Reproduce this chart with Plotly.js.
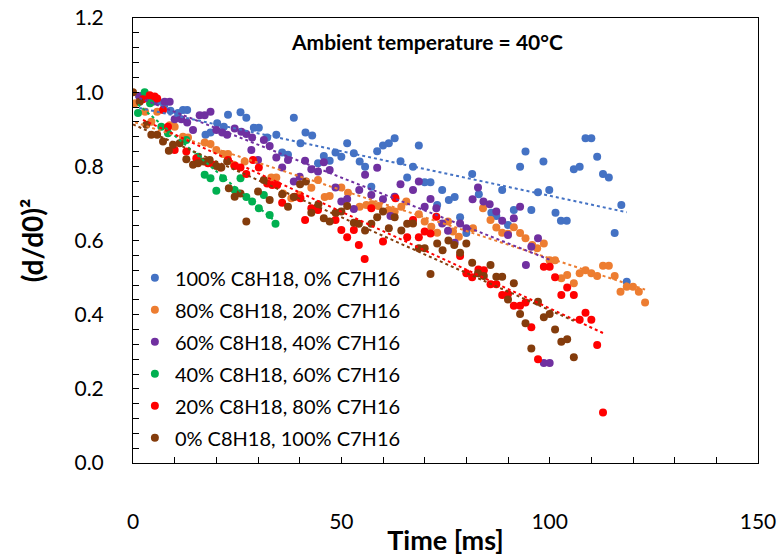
<!DOCTYPE html>
<html>
<head>
<meta charset="utf-8">
<script src="https://cdn.plot.ly/plotly-3.0.1.min.js"></script>
<style>html,body{margin:0;padding:0;background:#fff}#chart{width:780px;height:556px}</style>
</head>
<body>
<div id="chart"></div>
<script>
// Series names
const seriesNames = [
  "100% C8H18, 0% C7H16",
  "80% C8H18, 20% C7H16",
  "60% C8H18, 40% C7H16",
  "40% C8H18, 60% C7H16",
  "20% C8H18, 80% C7H16",
  "0% C8H18, 100% C7H16"
];
const seriesColors = ["#4472C4", "#ED7D31", "#7030A0", "#00B050", "#FF0000", "#843C0C"];

// 100% C8H18
const t100 = [1.5,3.5,6,7.5,9.0,10.8,12.0,13.0,17.4,18.6,20.2,21.8,22.8,25.8,27.2,29.0,30.2,32.2,34.4,35.8,37.2,38.6,40.2,41.4,43.0,44.4,45.8,47.2,48.6,50.0,51.4,53.0,54.4,55.7,57.2,58.6,60.0,61.4,62.8,64.2,65.8,67.2,68.6,70.0,71.4,73.0,74.2,75.8,77.2,78.5,80.0,81.4,83.0,86.0,87.2,88.6,90.0,91.4,92.9,94.2,95.6,97.2,98.5,99.9,101.4,102.7,104.1,105.8,107.2,108.6,110.0,111.4,112.8,114.2,115.6,117.2,118.5];
const d100 = [0.99,0.985,0.975,0.965,0.95,0.944,0.952,0.952,0.885,0.891,0.916,0.907,0.939,0.946,0.931,0.904,0.904,0.878,0.885,0.837,0.831,0.931,0.862,0.891,0.883,0.808,0.828,0.815,0.837,0.826,0.862,0.835,0.813,0.799,0.745,0.841,0.856,0.862,0.876,0.814,0.770,0.799,0.856,0.757,0.757,0.696,0.736,0.709,0.717,0.663,0.62,0.779,0.725,0.675,0.666,0.736,0.642,0.682,0.799,0.840,0.682,0.730,0.813,0.736,0.675,0.653,0.653,0.792,0.799,0.876,0.876,0.826,0.779,0.770,0.62,0.696,0.489];

// 80% C8H18
const t80 = [0.5,2.9,4.4,5.8,8.8,10.0,12.0,13.2,17.2,18.6,20.0,21.6,22.8,24.2,26.8,33.2,34.4,36.0,38.0,40.0,42.8,44.4,46.0,47.2,50.0,51.6,54.4,56.0,57.4,58.9,61.4,62.8,64.4,65.6,68.6,70.0,71.6,73.0,75.6,76.8,78.2,81.6,84.0,85.8,87.2,88.6,90.0,91.4,92.9,94.2,95.8,97.0,98.6,100.0,101.3,102.8,104.2,105.8,107.2,108.6,110.0,111.4,112.8,114.2,115.6,117.0,118.5,120.0,121.4,122.9];
const d80 = [0.97,0.947,0.92,0.947,0.911,0.907,0.88,0.878,0.864,0.86,0.844,0.833,0.833,0.804,0.813,0.770,0.770,0.727,0.714,0.723,0.742,0.763,0.717,0.72,0.743,0.729,0.691,0.696,0.698,0.693,0.682,0.678,0.691,0.705,0.671,0.651,0.637,0.621,0.651,0.624,0.610,0.633,0.687,0.655,0.635,0.621,0.618,0.636,0.62,0.606,0.588,0.579,0.592,0.547,0.547,0.498,0.507,0.485,0.512,0.52,0.512,0.504,0.532,0.532,0.504,0.462,0.475,0.475,0.462,0.433];

// 60% C8H18
const t60 = [1.5,3.0,5.0,7.6,8.8,10.0,11.6,13.0,14.4,16.0,17.2,18.6,20.0,21.4,22.6,24.4,26.0,27.2,28.6,28.4,30.0,31.4,32.8,34.4,35.8,37.2,38.6,40.0,41.3,42.8,44.4,45.8,47.2,48.6,50.0,51.4,53.0,54.3,55.7,57.2,58.6,60.0,61.8,62.8,64.2,67.2,68.6,70.0,71.4,72.8,74.2,75.6,77.2,78.5,80.0,81.5,82.8,84.1,85.6,87.2,88.6,90.0,91.4,92.9,94.3,95.6,97.2,98.6,100.0];
const d60 = [0.99,0.985,0.975,0.974,0.974,0.927,0.927,0.918,0.898,0.938,0.938,0.947,0.898,0.891,0.885,0.902,0.893,0.887,0.878,0.844,0.817,0.871,0.855,0.824,0.797,0.817,0.759,0.772,0.815,0.792,0.786,0.811,0.79,0.743,0.705,0.712,0.685,0.736,0.777,0.723,0.796,0.711,0.666,0.718,0.752,0.736,0.759,0.691,0.712,0.687,0.646,0.626,0.594,0.646,0.633,0.711,0.743,0.705,0.698,0.678,0.653,0.615,0.66,0.691,0.534,0.583,0.606,0.27,0.27];

// 40% C8H18
const t40 = [1.2,2.8,4.1,6.8,8.4,12.8,15.6,17.2,18.6,20.0,21.6,24.4,25.8,27.2,28.6,30.2,31.4,32.8,34.2];
const d40 = [0.944,1.0,0.97,0.907,0.889,0.871,0.826,0.777,0.768,0.734,0.768,0.736,0.768,0.717,0.705,0.687,0.723,0.669,0.645];

// 20% C8H18
const t20 = [2.4,4.0,5.2,5.8,7.2,8.4,10.0,12.8,15.2,18.0,19.4,21.0,22.8,24.4,25.8,27.2,28.8,30.2,32.2,33.4,34.6,35.8,38.8,40.2,41.3,42.8,44.4,48.6,50.0,51.4,53.0,54.2,55.6,57.2,60.0,63.0,65.8,67.2,68.6,70.0,71.4,72.8,78.5,80.0,81.4,82.9,84.2,85.8,87.2,88.6,90.0,91.4,92.9,94.2,95.6,97.2,98.6,100.0,101.3,102.8,104.2,105.8,107.2,108.6,110.0,111.4,112.8];
const d20 = [0.981,0.992,0.988,0.983,0.952,0.907,0.844,0.84,0.822,0.808,0.804,0.797,0.817,0.801,0.797,0.779,0.817,0.797,0.754,0.75,0.75,0.702,0.718,0.714,0.655,0.687,0.682,0.655,0.628,0.609,0.628,0.588,0.55,0.687,0.597,0.714,0.609,0.655,0.609,0.624,0.619,0.664,0.558,0.512,0.501,0.522,0.52,0.482,0.482,0.453,0.456,0.424,0.424,0.433,0.366,0.28,0.529,0.529,0.501,0.453,0.473,0.453,0.386,0.405,0.386,0.318,0.136];

// 0% C8H18
const t0 = [0,1.6,3.2,4.4,5.8,7.2,8.6,9.6,11.2,12.8,14.4,15.6,17.0,18.4,20.0,21.2,22.6,23.0,24.4,25.8,27.2,30.0,31.4,32.8,35.8,37.2,38.6,40.1,41.5,42.8,44.5,45.8,47.2,48.6,50.0,51.4,53.0,54.2,55.7,57.2,58.6,60.0,61.4,62.8,64.4,65.8,67.2,68.6,70.0,71.4,73.0,74.3,75.7,77.1,78.5,80.0,81.4,82.8,84.2,85.8,87.2,88.6,90.0,91.4,92.9,94.2,95.6,97.2,98.6,100.0,101.3,102.8,104.2,105.8];
const d0 = [1.0,0.974,0.912,0.885,0.885,0.867,0.842,0.858,0.862,0.819,0.804,0.808,0.813,0.817,0.801,0.797,0.813,0.741,0.718,0.727,0.651,0.732,0.763,0.709,0.725,0.691,0.717,0.752,0.759,0.675,0.698,0.66,0.651,0.675,0.678,0.693,0.648,0.645,0.627,0.645,0.663,0.678,0.633,0.663,0.627,0.645,0.646,0.579,0.579,0.51,0.592,0.574,0.60,0.588,0.567,0.592,0.54,0.512,0.504,0.534,0.502,0.502,0.441,0.485,0.402,0.377,0.309,0.435,0.393,0.402,0.36,0.327,0.334,0.285];

const xs = [t100, t80, t60, t40, t20, t0];
const ys = [d100, d80, d60, d40, d20, d0];

function linfit(x, y) {
  const n = x.length;
  let sx = 0, sy = 0, sxx = 0, sxy = 0;
  for (let i = 0; i < n; i++) { sx += x[i]; sy += y[i]; sxx += x[i]*x[i]; sxy += x[i]*y[i]; }
  const m = (n*sxy - sx*sy) / (n*sxx - sx*sx);
  const b = (sy - m*sx) / n;
  return [m, b];
}

const FONT = "Lato, 'Open Sans', sans-serif";
const traces = [];
for (let i = 0; i < 6; i++) {
  traces.push({
    type: "scatter", mode: "markers", x: xs[i], y: ys[i], name: seriesNames[i],
    legendgroup: "g" + i,
    marker: {color: seriesColors[i], size: 8}, hoverinfo: "x+y"
  });
}
for (let i = 0; i < 6; i++) {
  const [m, b] = linfit(xs[i], ys[i]);
  const x0 = Math.min(...xs[i]), x1 = Math.max(...xs[i]);
  traces.push({
    type: "scatter", mode: "lines", x: [x0, x1], y: [m*x0 + b, m*x1 + b],
    showlegend: false, hoverinfo: "skip",
    line: {color: seriesColors[i], width: 2, dash: "dot"}
  });
}

const layout = {
  width: 780, height: 556,
  margin: {l: 133, r: 22, t: 18, b: 93},
  paper_bgcolor: "#fff", plot_bgcolor: "#fff",
  font: {family: FONT, color: "#000"},
  showlegend: true,
  legend: {
    x: 0.003, y: 0.46, xanchor: "left", yanchor: "top",
    bgcolor: "rgba(255,255,255,0)", font: {size: 20, family: FONT, color: "#000"},
    tracegroupgap: 3, itemwidth: 30
  },
  xaxis: {
    range: [0, 150], dtick: 50, tick0: 0, showgrid: false, zeroline: false,
    showline: true, linecolor: "#000", linewidth: 1, mirror: true,
    ticks: "inside", ticklen: 6, tickcolor: "#000",
    minor: {dtick: 10, ticks: "inside", ticklen: 6, tickcolor: "#000"},
    tickfont: {size: 21, family: FONT, color: "#000"},
    ticklabelstandoff: 40,
    automargin: false,
    title: {text: "Time [ms]", font: {size: 27, family: FONT, color: "#000", weight: "bold"}, standoff: 0}
  },
  yaxis: {
    range: [0, 1.2], dtick: 0.2, tick0: 0, tickformat: ".1f", showgrid: false, zeroline: false,
    showline: true, linecolor: "#000", linewidth: 1, mirror: true,
    ticks: "inside", ticklen: 6, tickcolor: "#000",
    minor: {dtick: 0.04, ticks: "inside", ticklen: 6, tickcolor: "#000"},
    tickfont: {size: 21, family: FONT, color: "#000"},
    ticklabelstandoff: 24,
    automargin: false,
    title: {text: "(d/d0)²", font: {size: 28, family: FONT, color: "#000", weight: "bold"}, standoff: 22}
  },
  annotations: [{
    xref: "paper", yref: "paper", x: 0.47, y: 0.948, xanchor: "center", yanchor: "middle",
    text: "<b>Ambient temperature = 40°C</b>", showarrow: false,
    font: {size: 21, family: FONT, color: "#000"}
  }]
};

Plotly.newPlot("chart", traces, layout, {displayModeBar: false, staticPlot: true});
</script>
</body>
</html>
